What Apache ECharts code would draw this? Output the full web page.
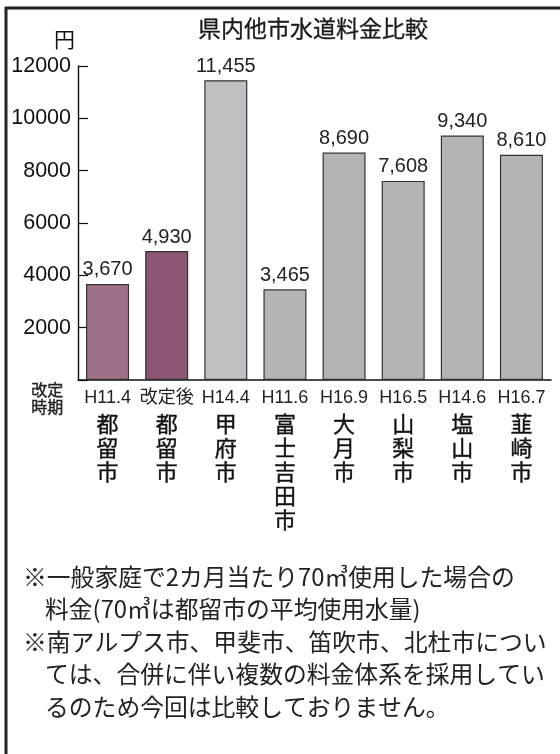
<!DOCTYPE html>
<html>

<head>
  <meta charset="utf-8">
  <title>県内他市水道料金比較</title>
  <script src="https://cdn.jsdelivr.net/npm/echarts@6/dist/echarts.min.js"></script>
  <style>
    html, body { margin: 0; padding: 0; background: #fff; }
  </style>
</head>

<body>
  <div id="main" style="width: 560px;height:754px;"></div>
  <script type="text/javascript">
    // data
    var cities = ['都留市', '都留市', '甲府市', '富士吉田市', '大月市', '山梨市', '塩山市', '韮崎市'];
    var periods = ['H11.4', '改定後', 'H14.4', 'H11.6', 'H16.9', 'H16.5', 'H14.6', 'H16.7'];
    var fees = [3670, 4930, 11455, 3465, 8690, 7608, 9340, 8610];
    var yTicks = [0, 2000, 4000, 6000, 8000, 10000, 12000];
    var notes = [
      '※一般家庭で2カ月当たり70㎥使用した場合の',
      '料金(70㎥は都留市の平均使用水量)',
      '※南アルプス市、甲斐市、笛吹市、北杜市につい',
      'ては、合併に伴い複数の料金体系を採用してい',
      'るのため今回は比較しておりません。'
    ];

    var barColors = ['#a0728a', '#8c5674', '#bfc0c4', '#b4b4b4', '#b4b4b4', '#b4b4b4', '#b4b4b4', '#b4b4b4'];
    var latin = '"Liberation Sans", "Noto Sans CJK JP", sans-serif';
    var cjk = '"Noto Sans CJK JP", sans-serif';

    function comma(v) {
      return String(v).replace(/\B(?=(\d{3})+(?!\d))/g, ',');
    }

    var myChart = echarts.init(document.getElementById('main'));

    // footnote lines
    var noteGraphics = notes.map(function (t, i) {
      return {
        type: 'text',
        left: t.charAt(0) === '※' ? 23 : 45,
        top: 565 + i * 32.5,
        style: { text: t, fontFamily: cjk, fontSize: 23.8, fill: '#222' }
      };
    });

    var option = {
      animation: false,
      title: {
        text: '県内他市水道料金比較',
        left: 308,
        top: 12,
        textAlign: 'center',
        textStyle: {
          fontFamily: cjk, fontSize: 23, fontWeight: 'normal', color: '#1a1a1a',
          textBorderColor: '#1a1a1a', textBorderWidth: 0.3
        }
      },
      grid: { left: 78, right: 9, top: 66, bottom: 374 },
      xAxis: {
        type: 'category',
        data: periods.map(function (p, i) { return p + '|' + cities[i]; }),
        axisLine: { lineStyle: { color: '#111', width: 1.6 } },
        axisTick: { inside: true, length: 6, lineStyle: { color: '#111', width: 1.2 } },
        axisLabel: {
          interval: 0,
          margin: 4,
          formatter: function (v) {
            var parts = v.split('|');
            var chars = parts[1].split('').map(function (c) { return '{c|' + c + '}'; });
            return '{d|' + parts[0] + '}\n' + chars.join('\n');
          },
          rich: {
            d: { fontFamily: latin, fontSize: 18, color: '#222', lineHeight: 28 },
            c: {
              fontFamily: cjk, fontSize: 22, fontWeight: 'normal', color: '#111', lineHeight: 24,
              textBorderColor: '#111', textBorderWidth: 0.4
            }
          }
        }
      },
      yAxis: {
        type: 'value',
        min: yTicks[0],
        max: yTicks[yTicks.length - 1],
        interval: 2000,
        axisLine: { show: true, lineStyle: { color: '#111', width: 1.4 } },
        axisTick: { show: true, inside: true, length: 10, lineStyle: { color: '#111', width: 1.2 } },
        splitLine: { show: false },
        axisLabel: {
          margin: 7,
          fontFamily: latin,
          fontSize: 21.5,
          color: '#111',
          formatter: function (v) { return v === 0 ? '' : String(v); }
        }
      },
      series: [{
        type: 'bar',
        data: fees,
        barWidth: 43,
        itemStyle: {
          color: function (p) { return barColors[p.dataIndex]; },
          borderColor: '#333',
          borderWidth: 1.2
        },
        label: {
          show: true,
          position: 'top',
          distance: 4,
          fontFamily: latin,
          fontSize: 20,
          color: '#222',
          formatter: function (p) { return comma(p.value); }
        }
      }],
      graphic: [
        // frame (top and left edges only)
        { type: 'line', shape: { x1: 5, y1: 8, x2: 560, y2: 8 }, style: { stroke: '#222', lineWidth: 3 } },
        { type: 'line', shape: { x1: 6, y1: 7, x2: 6, y2: 754 }, style: { stroke: '#222', lineWidth: 3 } },
        { type: 'text', left: 54, top: 29, style: { text: '円', fontFamily: cjk, fontSize: 21, fill: '#111' } },
        {
          type: 'text', left: 31, top: 381,
          style: {
            text: '改定\n時期', fontFamily: cjk, fontSize: 16, lineHeight: 17, fill: '#222',
            stroke: '#222', lineWidth: 0.4
          }
        }
      ].concat(noteGraphics)
    };

    myChart.setOption(option);
  </script>
</body>

</html>
